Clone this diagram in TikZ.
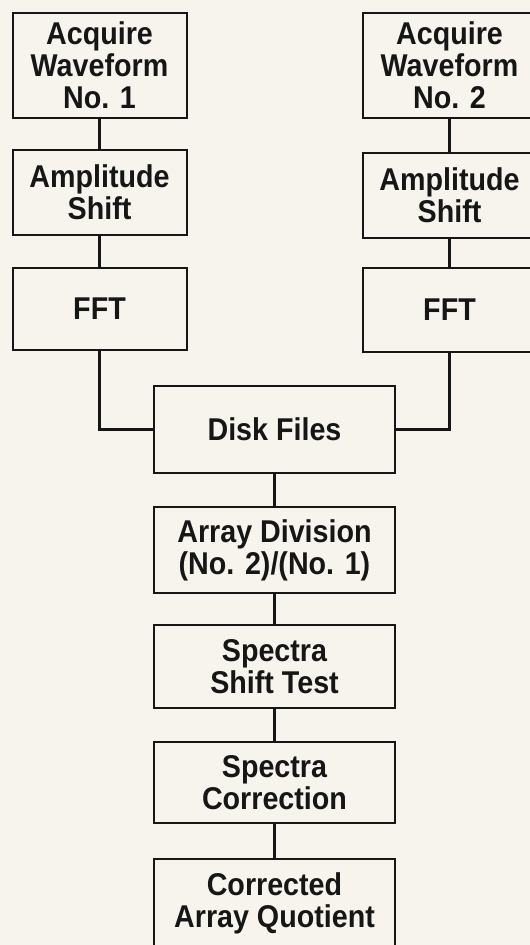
\documentclass[tikz,border=0pt]{standalone}
\usepackage{fontspec}
\newfontfamily\boxfont{Liberation Sans}[FakeStretch=0.91]
\definecolor{paper}{HTML}{F6F4EC}
\definecolor{ink}{HTML}{161616}
\begin{document}
\begin{tikzpicture}[x=1pt,y=-1pt,
  box/.style={draw=ink, line width=2pt, inner sep=0pt, align=center,
    text=ink, font=\boxfont\bfseries\fontsize{31.5}{32}\selectfont},
  sidebox/.style={box, minimum width=174pt},
  midbox/.style={box, minimum width=241pt},
  link/.style={draw=ink, line width=2.6pt}]
\fill[paper] (0,0) rectangle (530,945);
\clip (0,0) rectangle (530,945);

% left branch
\node[sidebox, minimum height=105pt] (acq1) at (99.5,65.5) {Acquire\\Waveform\\No. 1};
\node[sidebox, minimum height=85pt]  (amp1) at (99.5,192.5) {Amplitude\\Shift};
\node[sidebox, minimum height=82pt]  (fft1) at (99.5,309) {FFT};

% right branch
\node[sidebox, minimum height=105pt] (acq2) at (449.5,65.5) {Acquire\\Waveform\\No. 2};
\node[sidebox, minimum height=85pt]  (amp2) at (449.5,195.5) {Amplitude\\Shift};
\node[sidebox, minimum height=84pt]  (fft2) at (449.5,310) {FFT};

% common chain
\node[midbox, minimum height=87pt] (disk) at (274.5,429.5) {Disk Files};
\node[midbox, minimum height=86pt] (div)  at (274.5,550) {Array Division\\(No. 2)/(No. 1)};
\node[midbox, minimum height=83pt] (test) at (274.5,666.5) {Spectra\\Shift Test};
\node[midbox, minimum height=81pt] (corr) at (274.5,782.5) {Spectra\\Correction};
\node[midbox, minimum height=88pt] (quot) at (274.5,903) {Corrected\\Array Quotient};

% connectors
\draw[link] (acq1) -- (amp1);
\draw[link] (amp1) -- (fft1);
\draw[link] (acq2) -- (amp2);
\draw[link] (amp2) -- (fft2);
\draw[link] (fft1.south) |- (disk.west);
\draw[link] (fft2.south) |- (disk.east);
\draw[link] (disk) -- (div);
\draw[link] (div) -- (test);
\draw[link] (test) -- (corr);
\draw[link] (corr) -- (quot);
\end{tikzpicture}
\end{document}
